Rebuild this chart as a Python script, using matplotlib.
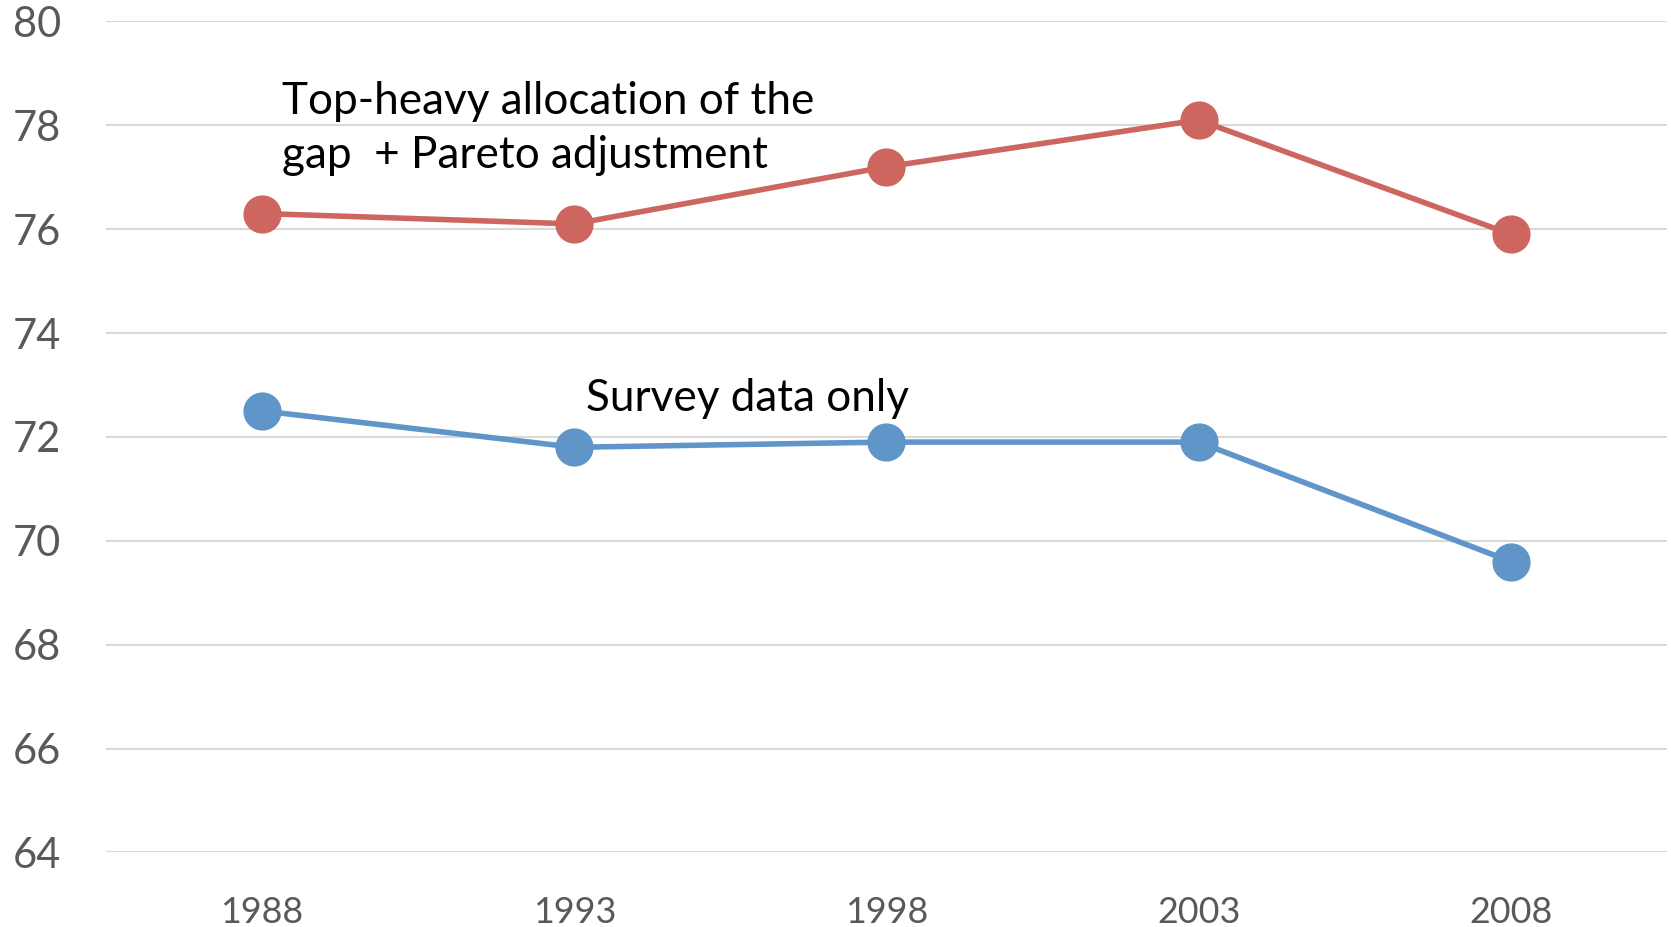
import matplotlib
matplotlib.use("Agg")
import matplotlib.pyplot as plt

years = ["1988", "1993", "1998", "2003", "2008"]
top_heavy = [76.3, 76.1, 77.2, 78.1, 75.9]
survey = [72.5, 71.8, 71.9, 71.9, 69.6]
yticks = [64, 66, 68, 70, 72, 74, 76, 78, 80]

RED = "#CD665F"
BLUE = "#5F95C8"
GRAY = "#595959"

plt.rcParams['font.family'] = ['Lato', 'DejaVu Sans']

fig = plt.figure(figsize=(16.71, 9.27), dpi=100)
ax = fig.add_axes([0.0634, 0.0804, 0.9342, 0.8966])

x = list(range(len(years)))
ax.plot(x, top_heavy, color=RED, lw=4.0, marker='o', ms=26.5, zorder=3)
ax.plot(x, survey, color=BLUE, lw=4.0, marker='o', ms=26.5, zorder=3)

ax.set_xlim(-0.5, len(years) - 0.5)
ax.set_ylim(64, 80)
ax.set_yticks(yticks)
ax.set_yticklabels([str(v) for v in yticks], fontsize=30, color=GRAY)
ax.set_xticks(x)
ax.set_xticklabels(years, fontsize=25.8, color=GRAY)
ax.tick_params(axis='y', length=0, pad=32)
ax.tick_params(axis='x', length=0, pad=31)
ax.grid(axis='y', color='#D9D9D9', lw=1.5, zorder=0)
ax.set_axisbelow(True)
for s in ax.spines.values():
    s.set_visible(False)

ax.text(0.064, 78.22, "Top-heavy allocation of the", fontsize=31.8, color='black', va='baseline', ha='left')
ax.text(0.064, 77.18, "gap  + Pareto adjustment", fontsize=31.8, color='black', va='baseline', ha='left')
ax.text(1.037, 72.49, "Survey data only", fontsize=31.8, color='black', va='baseline', ha='left')

fig.savefig("out.png", dpi=100)
